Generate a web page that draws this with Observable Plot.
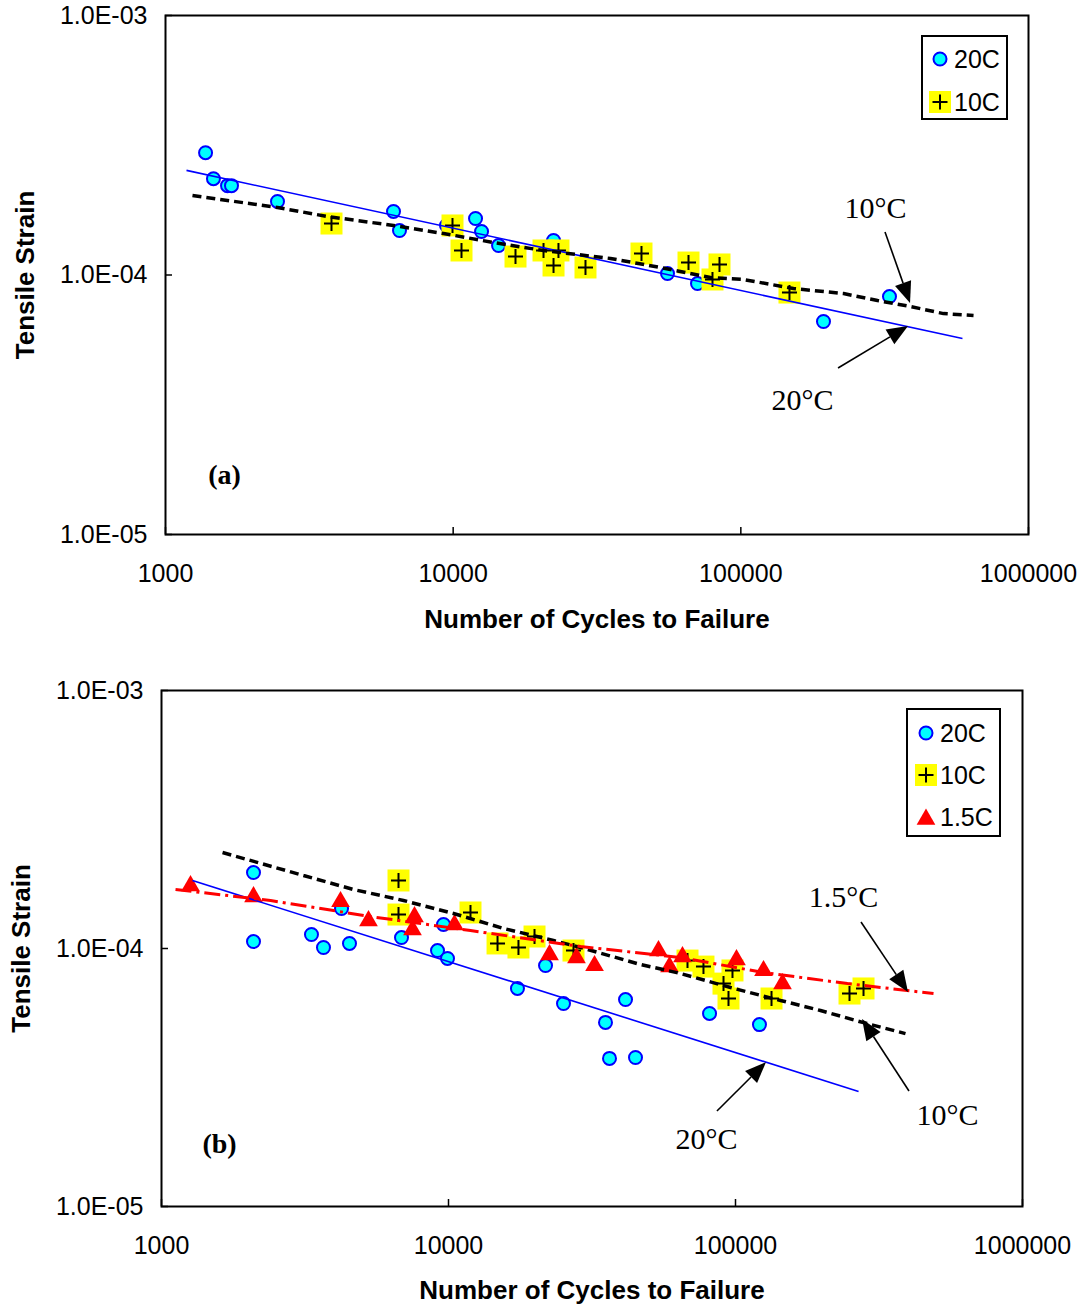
<!DOCTYPE html>
<html><head><meta charset="utf-8">
<script src="https://cdn.jsdelivr.net/npm/d3@7"></script>
<script src="https://cdn.jsdelivr.net/npm/@observablehq/plot@0.6"></script>
<style>
body{margin:0;background:#fff}
#wrap{width:1089px;position:relative}
#wrap svg{display:block}
</style>
</head><body><div id="wrap"></div>
<script>
// ---------- shared axis data ----------
const xTicks = [1000, 10000, 100000, 1000000];
const xTickLabels = ["1000", "10000", "100000", "1000000"];
const yTicks = [1e-5, 1e-4, 1e-3];
const yTickLabels = ["1.0E-05", "1.0E-04", "1.0E-03"];
const xTitle = "Number of Cycles to Failure";
const yTitle = "Tensile Strain";

// ---------- panel (a) ----------
const a20Cycles = [1378, 1468, 1643, 1696, 2451, 6203, 6508, 9480, 11960, 12550, 14380, 22330, 55600, 70700, 193800, 328700];
const a20Strain = [2.96e-4, 2.35e-4, 2.21e-4, 2.21e-4, 1.92e-4, 1.757e-4, 1.484e-4, 1.552e-4, 1.651e-4, 1.471e-4, 1.299e-4, 1.358e-4, 1.013e-4, 9.27e-5, 6.62e-5, 8.26e-5];
const a10Cycles = [3776, 9947, 10690, 16470, 20610, 23230, 22330, 28840, 45150, 65780, 84300, 79700, 147600];
const a10Strain = [1.579e-4, 1.552e-4, 1.243e-4, 1.178e-4, 1.243e-4, 1.243e-4, 1.088e-4, 1.069e-4, 1.21e-4, 1.117e-4, 1.098e-4, 9.61e-5, 8.56e-5];
const a20FitCycles = [1183, 589500];
const a20FitStrain = [2.53e-4, 5.69e-5];
const a10FitCycles = [1241, 2451, 3657, 6203, 9257, 13810, 20610, 35240, 52560, 78440, 102100, 152400, 227500, 298700, 388900, 506400, 644100];
const a10FitStrain = [2.025e-4, 1.82e-4, 1.68e-4, 1.552e-4, 1.445e-4, 1.334e-4, 1.243e-4, 1.158e-4, 1.069e-4, 9.78e-5, 9.61e-5, 8.87e-5, 8.48e-5, 7.97e-5, 7.56e-5, 7.1e-5, 6.98e-5];
const aNoteLabels = ["10°C", "20°C"];
const aNoteCycles = [293800, 163800];
const aNoteStrain = [1.804e-4, 3.28e-5];
const aArrowFrom = [[318400, 1.459e-4], [218600, 4.36e-5]];
const aArrowTo = [[389000, 7.77e-5], [382600, 6.33e-5]];
const aPanelLabel = ["(a)", 1604, 1.70e-5];
const aLegend = ["20C", "10C"];

// ---------- panel (b) ----------
const b20Cycles = [2092, 2092, 3331, 3668, 4519, 4239, 6859, 9607, 9156, 9920, 17390, 21780, 25160, 35240, 36390, 41380, 44830, 81200, 121200];
const b20Strain = [1.97e-4, 1.064e-4, 1.133e-4, 1.009e-4, 1.046e-4, 1.429e-4, 1.103e-4, 1.239e-4, 9.82e-5, 9.15e-5, 7.0e-5, 8.59e-5, 6.12e-5, 5.17e-5, 3.75e-5, 6.34e-5, 3.78e-5, 5.6e-5, 5.07e-5];
const b10Cycles = [6696, 6696, 11930, 14820, 17530, 19940, 27260, 68040, 77340, 97610, 90830, 94540, 133500, 249600, 279300];
const b10Strain = [1.835e-4, 1.354e-4, 1.379e-4, 1.046e-4, 1.009e-4, 1.113e-4, 9.82e-5, 8.98e-5, 8.51e-5, 8.22e-5, 7.31e-5, 6.4e-5, 6.4e-5, 6.69e-5, 7.0e-5];
const b15Cycles = [1262, 2092, 4205, 5263, 7613, 7491, 10490, 22490, 27920, 32270, 53910, 58890, 65350, 100800, 125200, 145800];
const b15Strain = [1.786e-4, 1.619e-4, 1.549e-4, 1.307e-4, 1.354e-4, 1.206e-4, 1.261e-4, 9.65e-5, 9.39e-5, 8.75e-5, 1.0e-4, 8.67e-5, 9.48e-5, 9.23e-5, 8.37e-5, 7.45e-5];
const b20FitCycles = [1282, 268400];
const b20FitStrain = [1.835e-4, 2.79e-5];
const b10FitCycles = [1632, 3125, 4667, 6968, 10410, 15540, 23220, 28840, 46670, 64350, 96070, 143500, 197800, 279300, 391100];
const b10FitStrain = [2.355e-4, 1.918e-4, 1.693e-4, 1.535e-4, 1.367e-4, 1.196e-4, 1.074e-4, 1.009e-4, 8.67e-5, 8.0e-5, 7.06e-5, 6.29e-5, 5.75e-5, 5.16e-5, 4.68e-5];
const b15FitCycles = [1119, 2398, 5348, 11930, 28840, 64350, 125200, 245600, 489700];
const b15FitStrain = [1.693e-4, 1.535e-4, 1.33e-4, 1.174e-4, 1.018e-4, 9.23e-5, 8.07e-5, 7.31e-5, 6.69e-5];
const bNoteLabels = ["1.5°C", "10°C", "20°C"];
const bNoteCycles = [237800, 547900, 79250];
const bNoteStrain = [1.577e-4, 2.25e-5, 1.817e-5];
const bArrowFrom = [[274800, 1.261e-4], [403900, 2.79e-5], [86530, 2.335e-5]];
const bArrowTo = [[400600, 6.75e-5], [277000, 5.31e-5], [128200, 3.61e-5]];
const bPanelLabel = ["(b)", 1593, 1.754e-5];
const bLegend = ["20C", "10C", "1.5C"];

// ---------- helpers ----------
const rows = (xs, ys) => xs.map((x, i) => ({x, y: ys[i]}));
const SANS = "'Liberation Sans', Arial, sans-serif";
const SERIF = "'Liberation Serif', 'Times New Roman', serif";

const symSquare = {draw(ctx, size) { const r = Math.sqrt(size / Math.PI); ctx.rect(-r, -r, 2 * r, 2 * r); }};
const symPlus = {draw(ctx, size) { const r = Math.sqrt(size / Math.PI); ctx.moveTo(-r, 0); ctx.lineTo(r, 0); ctx.moveTo(0, -r); ctx.lineTo(0, r); }};
const symTri = {draw(ctx, size) { const r = Math.sqrt(size / Math.PI); ctx.moveTo(0, -r); ctx.lineTo(r * 1.1, r * 0.9); ctx.lineTo(-r * 1.1, r * 0.9); ctx.closePath(); }};

const STYLE = {
  circle: {r: 6.5, fill: "#00FFFF", stroke: "#0000FF", strokeWidth: 2},
  square: {r: 11, fill: "#FFFF00"},
  plus: {r: 7.5, stroke: "#000", strokeWidth: 2},
  tri: {r: 8.5, fill: "#FF0000"}
};

function seriesMarks(kind, data) {
  if (kind === "circle") return [Plot.dot(data, {x: "x", y: "y", ...STYLE.circle})];
  if (kind === "square") return [
    Plot.dot(data, {x: "x", y: "y", symbol: symSquare, ...STYLE.square}),
    Plot.dot(data, {x: "x", y: "y", symbol: symPlus, fill: "none", ...STYLE.plus})
  ];
  return [Plot.dot(data, {x: "x", y: "y", symbol: symTri, ...STYLE.tri})];
}

function drawSymbol(g, kind, cx, cy) {
  const sym = (s, r) => d3.symbol(s, r * r * Math.PI)();
  if (kind === "circle") {
    g.append("circle").attr("cx", cx).attr("cy", cy).attr("r", STYLE.circle.r)
      .attr("fill", STYLE.circle.fill).attr("stroke", STYLE.circle.stroke).attr("stroke-width", 2);
  } else if (kind === "square") {
    g.append("path").attr("transform", `translate(${cx},${cy})`).attr("d", sym(symSquare, STYLE.square.r)).attr("fill", STYLE.square.fill);
    g.append("path").attr("transform", `translate(${cx},${cy})`).attr("d", sym(symPlus, STYLE.plus.r)).attr("fill", "none").attr("stroke", "#000").attr("stroke-width", 2);
  } else {
    g.append("path").attr("transform", `translate(${cx},${cy})`).attr("d", sym(symTri, STYLE.tri.r)).attr("fill", STYLE.tri.fill);
  }
}

function legendMark(labels, kinds, box) {
  return (index, scales, values, dims) => {
    const x0 = dims.width - dims.marginRight - box.right - box.w;
    const y0 = dims.marginTop + box.top;
    const g = d3.create("svg:g");
    g.append("rect").attr("x", x0).attr("y", y0).attr("width", box.w).attr("height", box.h)
      .attr("fill", "white").attr("stroke", "black").attr("stroke-width", 2);
    labels.forEach((lab, i) => {
      const cy = y0 + box.first + i * box.step;
      drawSymbol(g, kinds[i], x0 + box.sym, cy);
      g.append("text").attr("x", x0 + box.text).attr("y", cy).attr("dy", "0.36em")
        .attr("text-anchor", "start")
        .attr("font-family", SANS).attr("font-size", 25).attr("fill", "black").text(lab);
    });
    return g.node();
  };
}

function arrowMark(from, to) {
  return (index, scales) => {
    const g = d3.create("svg:g");
    from.forEach((f, i) => {
      const x1 = scales.x(f[0]), y1 = scales.y(f[1]);
      const x2 = scales.x(to[i][0]), y2 = scales.y(to[i][1]);
      const ang = Math.atan2(y2 - y1, x2 - x1);
      const L = 21, W = 8.5;
      const bx = x2 - L * Math.cos(ang), by = y2 - L * Math.sin(ang);
      g.append("line").attr("x1", x1).attr("y1", y1).attr("x2", bx).attr("y2", by)
        .attr("stroke", "black").attr("stroke-width", 1.6);
      g.append("path").attr("d",
        `M${x2},${y2}L${bx + W * Math.sin(ang)},${by - W * Math.cos(ang)}L${bx - W * Math.sin(ang)},${by + W * Math.cos(ang)}Z`)
        .attr("fill", "black");
    });
    return g.node();
  };
}

function panel(cfg) {
  const {height, marginTop, marginBottom, marginLeft, marginRight} = cfg;
  const plotH = height - marginTop - marginBottom;
  const plotW = 1089 - marginLeft - marginRight;
  return Plot.plot({
    width: 1089, height, marginTop, marginBottom, marginLeft, marginRight,
    style: {fontFamily: SANS, fontSize: "25px", background: "white", color: "black", overflow: "visible"},
    x: {type: "log", domain: [1000, 1000000]},
    y: {type: "log", domain: [1e-5, 1e-3]},
    marks: [
      Plot.axisX({ticks: xTicks, tickFormat: d => xTickLabels[xTicks.indexOf(d)], tickSize: 0, tickPadding: 30, fontSize: 25, label: null}),
      Plot.axisY({ticks: yTicks, tickFormat: d => yTickLabels[yTicks.indexOf(d)], tickSize: 0, tickPadding: 18, fontSize: 25, label: null}),
      Plot.tickX(xTicks, {x: d => d, insetTop: plotH - 7, stroke: "black", strokeWidth: 1.5}),
      Plot.tickY(yTicks, {y: d => d, insetRight: plotW - 7, stroke: "black", strokeWidth: 1.5}),
      Plot.text([xTitle], {text: d => d, frameAnchor: "bottom", lineAnchor: "middle", textAnchor: "middle", dy: cfg.xTitleDy, fontSize: 26, fontWeight: "bold"}),
      Plot.text([yTitle], {text: d => d, frameAnchor: "left", lineAnchor: "middle", textAnchor: "middle", dx: -cfg.yTitleDx, rotate: -90, fontSize: 26, fontWeight: "bold"}),
      ...cfg.series.flatMap(s => seriesMarks(s.kind, rows(s.xs, s.ys))),
      ...cfg.fits.map(f => Plot.line(rows(f.xs, f.ys), {x: "x", y: "y", stroke: f.stroke, strokeWidth: f.width, strokeDasharray: f.dash, strokeLinejoin: "miter", strokeLinecap: "butt"})),
      arrowMark(cfg.arrowFrom, cfg.arrowTo),
      Plot.text(cfg.notes.labels, {x: (d, i) => cfg.notes.xs[i], y: (d, i) => cfg.notes.ys[i], text: d => d, fontFamily: SERIF, fontSize: 30}),
      Plot.text([cfg.panelLabel], {x: d => d[1], y: d => d[2], text: d => d[0], fontFamily: SERIF, fontSize: 28, fontWeight: "bold"}),
      legendMark(cfg.legend.labels, cfg.legend.kinds, cfg.legend.box),
      Plot.frame({stroke: "black", strokeWidth: 2})
    ]
  });
}

const wrap = document.getElementById("wrap");

wrap.append(panel({
  height: 650, marginTop: 15, marginBottom: 116, marginLeft: 165, marginRight: 61,
  xTitleDy: 85, yTitleDx: 140,
  series: [
    {kind: "circle", xs: a20Cycles, ys: a20Strain},
    {kind: "square", xs: a10Cycles, ys: a10Strain}
  ],
  fits: [
    {xs: a20FitCycles, ys: a20FitStrain, stroke: "#0000FF", width: 1.6, dash: null},
    {xs: a10FitCycles, ys: a10FitStrain, stroke: "#000", width: 3.5, dash: "9,5"}
  ],
  arrowFrom: aArrowFrom, arrowTo: aArrowTo,
  notes: {labels: aNoteLabels, xs: aNoteCycles, ys: aNoteStrain},
  panelLabel: aPanelLabel,
  legend: {labels: aLegend, kinds: ["circle", "square"], box: {right: 21, top: 21, w: 85, h: 83, first: 23, step: 43, sym: 18, text: 32}}
}));

wrap.append(panel({
  height: 658, marginTop: 40, marginBottom: 102, marginLeft: 161, marginRight: 67,
  xTitleDy: 84, yTitleDx: 140,
  series: [
    {kind: "circle", xs: b20Cycles, ys: b20Strain},
    {kind: "square", xs: b10Cycles, ys: b10Strain},
    {kind: "tri", xs: b15Cycles, ys: b15Strain}
  ],
  fits: [
    {xs: b20FitCycles, ys: b20FitStrain, stroke: "#0000FF", width: 1.6, dash: null},
    {xs: b10FitCycles, ys: b10FitStrain, stroke: "#000", width: 3.5, dash: "9,5"},
    {xs: b15FitCycles, ys: b15FitStrain, stroke: "#FF0000", width: 3, dash: "16,5,3,5"}
  ],
  arrowFrom: bArrowFrom, arrowTo: bArrowTo,
  notes: {labels: bNoteLabels, xs: bNoteCycles, ys: bNoteStrain},
  panelLabel: bPanelLabel,
  legend: {labels: bLegend, kinds: ["circle", "square", "tri"], box: {right: 22, top: 19, w: 93, h: 127, first: 24, step: 42, sym: 19, text: 33}}
}));
</script>
</body></html>
